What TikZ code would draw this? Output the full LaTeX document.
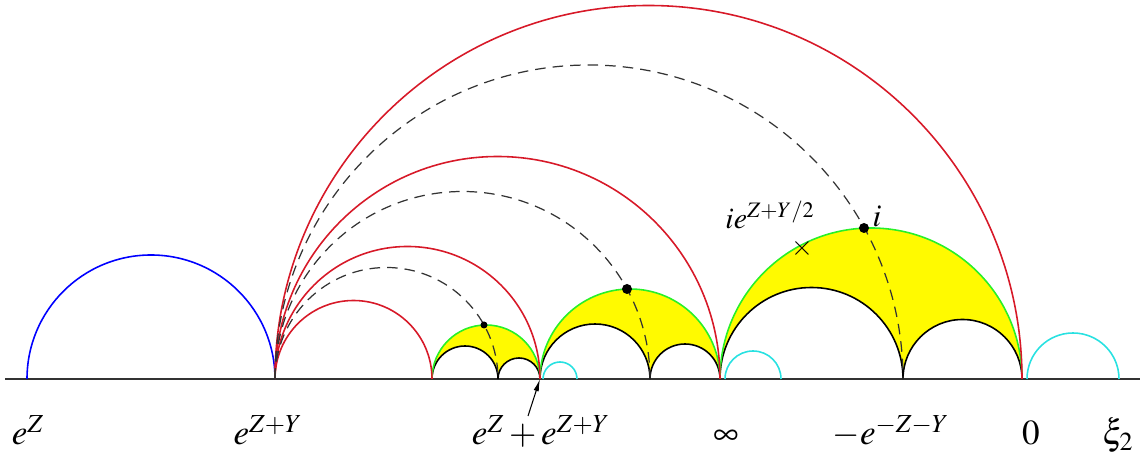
\documentclass[tikz,border=0pt]{standalone}
\usepackage{amsmath}
\usepackage{mathptmx}
\usepackage{tikz}
\usetikzlibrary{arrows.meta, positioning}

\definecolor{geored}{RGB}{215,25,40}
\definecolor{geogreen}{RGB}{40,240,40}
\definecolor{geocyan}{RGB}{40,225,225}
\definecolor{geoyellow}{RGB}{255,250,0}

% half circle standing on the real axis, from #2 to #3
\newcommand{\geod}[3][]{\draw[#1] (#2,0) arc[start angle=180, end angle=0, radius={(#3-#2)/2}];}

\begin{document}
\begin{tikzpicture}[
  x=0.02cm, y=0.02cm,
  axis/.style={line width=1pt, black!80},
  geo/.style={line width=0.9pt},
  redgeo/.style={geo, draw=geored},
  bluegeo/.style={geo, draw=blue},
  greengeo/.style={geo, draw=geogreen},
  cyangeo/.style={geo, draw=geocyan},
  blackgeo/.style={geo, draw=black},
  dashgeo/.style={line width=0.7pt, draw=black!80, dash pattern=on 6pt off 4pt},
  lab/.style={font=\fontsize{20}{24}\selectfont, anchor=base},
  arrow/.style={-{Latex[length=7pt, width=3pt]}, line width=0.6pt}
]
\useasboundingbox (0,-76) rectangle (1143,379);

% points on the axis
\coordinate (A) at (27,0);
\coordinate (B) at (275,0);
\coordinate (E) at (540,0);
\coordinate (G) at (720,0);
\coordinate (H) at (903,0);
\coordinate (K) at (1022,0);

% Yellow regions
\fill[geoyellow] (432,0) arc[start angle=180, end angle=0, radius=54]
  arc[start angle=0, end angle=180, radius=21]
  arc[start angle=0, end angle=180, radius=33] -- cycle;
\fill[geoyellow] (540,0) arc[start angle=180, end angle=0, radius=90]
  arc[start angle=0, end angle=180, radius=35]
  arc[start angle=0, end angle=180, radius=55] -- cycle;
\fill[geoyellow] (720,0) arc[start angle=180, end angle=0, radius=151]
  arc[start angle=0, end angle=180, radius=59.5]
  arc[start angle=0, end angle=180, radius=91.5] -- cycle;

% Axis
\draw[axis] (5,0) -- (1140,0);

% Black arcs
\geod[blackgeo]{432}{498}
\geod[blackgeo]{498}{540}
\geod[blackgeo]{540}{650}
\geod[blackgeo]{650}{720}
\geod[blackgeo]{720}{903}
\geod[blackgeo]{903}{1022}

% Green arcs
\geod[greengeo]{432}{540}
\geod[greengeo]{540}{720}
\geod[greengeo]{720}{1022}

% Cyan arcs
\geod[cyangeo]{543}{577}
\geod[cyangeo]{725}{781}
\geod[cyangeo]{1027}{1119}

% Blue arc
\geod[bluegeo]{27}{275}

% Red arcs
\geod[redgeo]{275}{432}
\geod[redgeo]{275}{540}
\geod[redgeo]{275}{720}
\geod[redgeo]{275}{1022}

% Dashed arcs
\geod[dashgeo]{275}{498}
\geod[dashgeo]{275}{650}
\geod[dashgeo]{275}{903}

% Dots and cross
\fill (484,54) circle[radius=3.5];
\fill (627,90) circle[radius=5];
\fill (864,151) circle[radius=5];
\node[font=\fontsize{16}{19}\selectfont] (cross) at (802,131) {$\times$};
\node[font=\fontsize{18}{21}\selectfont] (li) at (877,163) {$i$};
\node[font=\fontsize{17}{20}\selectfont] (lie) at (770,164) {$ie^{Z+Y/2}$};

% Labels
\node[lab] (lA) at (28,-66) {$e^{Z}$};
\node[lab] (lB) at (268,-66) {$e^{Z+Y}$};
\node[lab] (lE) at (541,-66) {$e^{Z}+e^{Z+Y}$};
\node[lab] (lG) at (726,-66) {$\infty$};
\node[lab] (lH) at (891,-66) {$-e^{-Z-Y}$};
\node[lab] (lK) at (1031,-66) {$0$};
\node[lab] (lxi) at (1118,-66) {$\xi_2$};

\coordinate (tail) at (528,-37);
\draw[arrow] (tail) -- (E);

\end{tikzpicture}
\end{document}
